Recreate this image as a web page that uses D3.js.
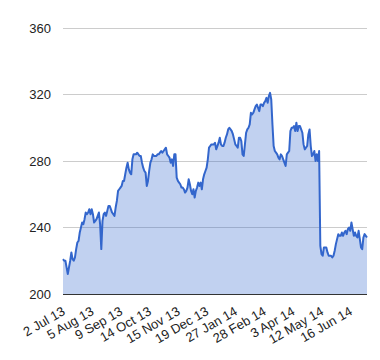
<!DOCTYPE html>
<html>
<head>
<meta charset="utf-8">
<script src="https://cdn.jsdelivr.net/npm/d3@7/dist/d3.min.js"></script>
<style>
  html, body { margin: 0; padding: 0; background: #fff; }
  svg { display: block; }
  text { font-family: Arial, "Liberation Sans", sans-serif; }
</style>
</head>
<body>
<svg id="chart" width="380" height="360"></svg>
<script>
// Daily closing values (trading days, 2 Jul 13 onward)
const values = [
  221,220,220,216,212,216,220,225,221,220,
  222,227,231,232,237,240,243,242,245,249,
  248,249,251,248,251,248,243,244,245,247,
  249,242,227,244,248,249,247,250,253,253,
  251,249,248,247,252,256,262,263,264,265,
  268,268,272,276,279,275,273,272,281,284,
  284,284,285,284,283,283,279,276,274,273,
  265,268,274,279,281,284,283,283,283,284,
  284,285,286,285,286,287,288,284,283,282,
  279,281,277,284,284,270,268,267,266,264,
  264,263,261,262,264,269,266,262,260,263,
  258,262,264,267,265,267,263,269,272,274,
  276,281,288,289,290,290,290,291,287,289,
  291,294,290,289,289,291,294,296,299,300,
  299,298,296,293,290,289,288,294,294,292,
  284,283,290,297,299,300,302,309,308,309,
  311,313,314,312,310,314,314,313,315,316,
  318,315,319,321,317,302,289,286,285,284,
  282,281,284,283,281,279,277,284,285,286,
  298,300,300,301,298,303,298,301,301,299,
  297,290,287,288,289,296,299,289,283,284,
  286,280,284,280,286,229,224,223,228,228,
  228,225,223,223,223,222,223,226,230,233,
  236,235,235,237,235,237,238,236,239,240,
  238,243,239,235,237,235,234,238,233,228,
  227,234,236,235,234
];
const tickLabels = ["2 Jul 13","5 Aug 13","9 Sep 13","14 Oct 13","15 Nov 13","19 Dec 13","27 Jan 14","28 Feb 14","3 Apr 14","12 May 14","16 Jun 14"];
const tickStep = 24;
const yTicks = [200, 240, 280, 320, 360];

const svg = d3.select("#chart");
const plotLeft = 63, plotRight = 367, plotTop = 28, plotBottom = 294;

const x = d3.scalePoint().domain(d3.range(values.length)).range([plotLeft, plotRight]);
const y = d3.scaleLinear().domain([200, 360]).range([plotBottom, plotTop]);

// gridlines
svg.append("g").selectAll("line").data(yTicks.filter(t => t !== 200)).join("line")
  .attr("x1", plotLeft).attr("x2", plotRight)
  .attr("y1", d => y(d)).attr("y2", d => y(d))
  .attr("stroke", "#cccccc").attr("stroke-width", 1).attr("shape-rendering", "crispEdges");

// area
const area = d3.area().x((d, i) => x(i)).y0(y(200)).y1(d => y(d));
svg.append("path").datum(values).attr("d", area).attr("fill", "#3366cc").attr("fill-opacity", 0.3);

// line
const line = d3.line().x((d, i) => x(i)).y(d => y(d));
svg.append("path").datum(values).attr("d", line)
  .attr("fill", "none").attr("stroke", "#3366cc").attr("stroke-width", 2).attr("stroke-linejoin", "round");

// baseline
svg.append("line").attr("x1", plotLeft).attr("x2", plotRight).attr("y1", y(200)).attr("y2", y(200))
  .attr("stroke", "#333333").attr("stroke-width", 1).attr("shape-rendering", "crispEdges");

// y labels
svg.append("g").selectAll("text").data(yTicks).join("text")
  .attr("x", 51).attr("y", d => y(d) + 4.5)
  .attr("text-anchor", "end").attr("font-size", 13).attr("fill", "#222222")
  .text(d => d);

// x labels
svg.append("g").selectAll("text").data(tickLabels).join("text")
  .attr("transform", (d, i) => `translate(${x(i * tickStep) + 3},${plotBottom + 20}) rotate(-30)`)
  .attr("text-anchor", "end").attr("font-size", 13).attr("fill", "#222222")
  .text(d => d);
</script>
</body>
</html>
